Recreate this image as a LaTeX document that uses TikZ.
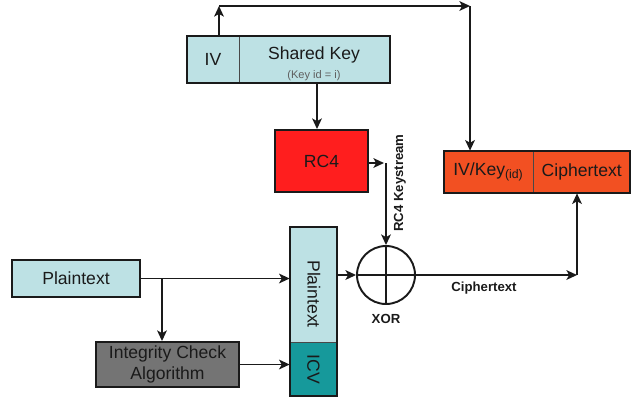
\documentclass[tikz,border=0pt]{standalone}
\usepackage{fontspec}
\setmainfont{Liberation Sans}
\usetikzlibrary{arrows.meta}
\definecolor{paleblue}{HTML}{BDE1E4}
\definecolor{tealc}{HTML}{16999B}
\definecolor{rcred}{HTML}{FF1E1E}
\definecolor{orangec}{HTML}{F25022}
\definecolor{grayc}{HTML}{747474}
\definecolor{inkc}{HTML}{1A1A1A}
\tikzset{
  box/.style={draw=inkc, line width=1.1pt, inner sep=0pt, font=\fontsize{10}{12}\selectfont, text=inkc},
  cell/.style={draw=none, inner sep=0pt, font=\fontsize{10}{12}\selectfont, text=inkc},
  wh/.style 2 args={minimum width=#1*0.02cm, minimum height=#2*0.02cm},
  arr/.style={draw=inkc, line width=1.1pt, -{Stealth[length=6pt,width=5.5pt,inset=1.5pt]}},
  plain/.style={draw=inkc, line width=1.1pt},
  divider/.style={draw=inkc!80, line width=0.5pt},
  lbl/.style={font=\bfseries\fontsize{7.5}{9}\selectfont, text=inkc, inner sep=0pt},
}
\begin{document}
\begin{tikzpicture}[x=0.02cm, y=-0.02cm]
\useasboundingbox (0,0) rectangle (631,400);

% key block: IV | Shared Key
\node[cell, wh={52}{47}, fill=paleblue] (iv) at (213,59.5) {IV};
\node[cell, wh={150}{47}, fill=paleblue, anchor=west] (sk) at (iv.east) {};
\draw[divider] (iv.north east) -- (iv.south east);
\draw[plain] (iv.north west) rectangle (sk.south east);
\node[inner sep=0pt, font=\fontsize{10}{12}\selectfont, text=inkc] (sklabel) at (314,55) {Shared Key};
\node[inner sep=0pt, font=\fontsize{6.3}{7}\selectfont, text=inkc!70] (keyid) at (314,76) {(Key id = i)};

% RC4
\node[box, wh={93}{62}, fill=rcred] (rc4) at (321.5,161) {RC4};

% XOR
\node[draw=inkc, line width=1.1pt, circle, minimum size=58*0.02cm, inner sep=0pt] (xor) at (386,275) {};
\draw[plain] (xor.north) -- (xor.south);
\draw[plain] (xor.west) -- (xor.east);
\node[lbl] (xorlbl) at (386,319) {XOR};

% output frame: IV/Key | Ciphertext
\node[cell, wh={89}{42}, fill=orangec] (ivkey) at (488.5,172) {IV/Key\textsubscript{\fontsize{7}{8}\selectfont (id)}};
\node[cell, wh={96}{42}, fill=orangec, anchor=west] (ct) at (ivkey.east) {Ciphertext};
\draw[divider] (ivkey.north east) -- (ivkey.south east);
\draw[plain] (ivkey.north west) rectangle (ct.south east);

% input
\node[box, wh={128}{37}, fill=paleblue] (pt) at (76,278.5) {Plaintext};
\node[box, wh={143}{45}, fill=grayc, align=center, font=\fontsize{10}{11.5}\selectfont] (ica) at (167.5,364.5) {Integrity Check\\Algorithm};

% plaintext + ICV column
\node[cell, wh={47}{115}, fill=paleblue] (pt2) at (313.5,284.5) {};
\node[cell, wh={47}{53}, fill=tealc, anchor=north] (icv) at (pt2.south) {};
\draw[divider] (pt2.south west) -- (pt2.south east);
\draw[plain] (pt2.north west) rectangle (icv.south east);
\node[rotate=-90, inner sep=0pt, font=\fontsize{10}{12}\selectfont, text=inkc] (pt2lbl) at (314,294) {Plaintext};
\node[rotate=-90, inner sep=0pt, font=\fontsize{10}{12}\selectfont, text=inkc] (icvlbl) at (icv.center) {ICV};

% routing points
\coordinate (topL) at (219,6);
\coordinate (topR) at (470,6);
\coordinate (kx) at (317,0);
\coordinate (ks) at (386,163);
\coordinate (cx) at (577,275);
\coordinate (br) at (162,0);

% IV path over the top
\draw[arr] (iv.north -| topL) -- (topL);
\draw[arr] (topL) -- (topR);
\draw[arr] (topR) -- (topR |- ivkey.north);

% key to RC4 and keystream to XOR
\draw[arr] (sk.south -| kx) -- (rc4.north -| kx);
\draw[arr] (rc4.east |- ks) -- ([xshift=-2*0.02cm]ks);
\draw[arr] (ks) -- (xor.north);
\node[lbl, rotate=90] (kslbl) at (400,183) {RC4 Keystream};

% plaintext and ICV
\draw[arr] (pt.east) -- (pt.east -| pt2.west);
\draw[arr] (pt.east -| br) -- (ica.north -| br);
\draw[arr] (ica.east) -- (ica.east -| icv.west);
\draw[arr] (pt2.east |- xor) -- (xor.west);

% ciphertext out
\draw[arr] (xor.east) -- (cx);
\draw[arr] (cx) -- (cx |- ct.south);
\node[lbl] (ctlbl) at (484,288) {Ciphertext};
\end{tikzpicture}
\end{document}
